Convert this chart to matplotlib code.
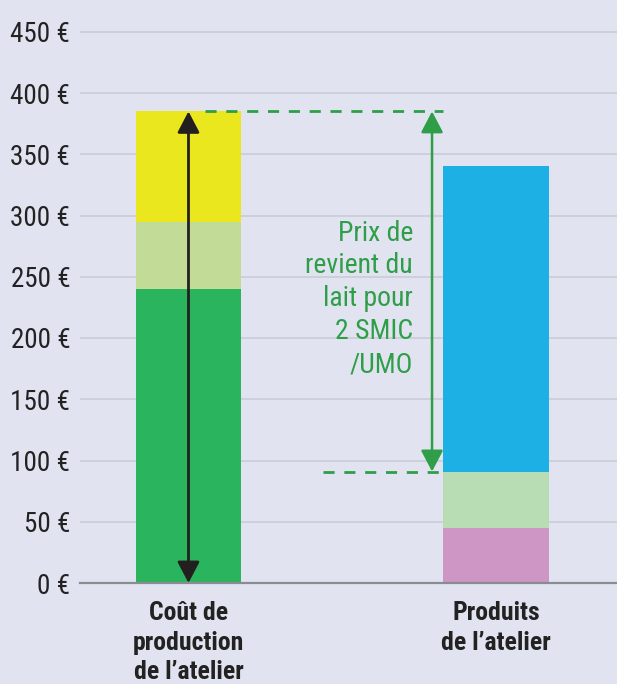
import matplotlib
matplotlib.use("Agg")
import matplotlib.pyplot as plt
from matplotlib import font_manager

# ---- data ----
categories = ["Coût de\nproduction\nde l’atelier", "Produits\nde l’atelier"]
cost_segments = [240, 55, 90]          # dark green, light green, yellow
product_segments = [45, 46, 249]       # pink, light green, blue
cost_colors = ["#2bb45e", "#c2dc98", "#ebe71f"]
product_colors = ["#cd96c5", "#b8ddb5", "#1cb0e4"]
yticks = [0, 50, 100, 150, 200, 250, 300, 350, 400, 450]
ytick_labels = [f"{v} €" for v in yticks]
cost_total = sum(cost_segments)                    # 385
prix_bottom = product_segments[0] + product_segments[1]  # 91
annotation_text = "Prix de\nrevient du\nlait pour\n2 SMIC\n/UMO"

# ---- fonts ----
names = {f.name for f in font_manager.fontManager.ttflist}
fam = "DejaVu Sans"
for cand in ["Roboto Condensed", "Liberation Sans Narrow", "Liberation Sans"]:
    if cand in names:
        fam = cand
        break
plt.rcParams["font.family"] = [fam, "DejaVu Sans"]

bg = "#e1e4f0"
green = "#2e9e48"

fig = plt.figure(figsize=(6.17, 6.84), dpi=100, facecolor=bg)
ax = fig.add_axes([80 / 617, 101 / 684, 537 / 617, 563.5 / 684], facecolor=bg)

width = 0.3415
x = [0, 1]
bottom = 0
for v, c in zip(cost_segments, cost_colors):
    ax.bar(x[0], v, bottom=bottom, width=width, color=c, zorder=2, linewidth=0)
    bottom += v
bottom = 0
for v, c in zip(product_segments, product_colors):
    ax.bar(x[1], v, bottom=bottom, width=width, color=c, zorder=2, linewidth=0)
    bottom += v

ax.set_xlim(-0.3528, 1.3935)
ax.set_ylim(0, 460)
ax.set_yticks(yticks)
ax.set_yticklabels(ytick_labels, fontsize=19.5, color="#222222")
ax.tick_params(axis="y", length=0, pad=7)
ax.set_xticks(x)
ax.set_xticklabels(categories, fontsize=18.5, fontweight="bold", color="#222222",
                   linespacing=1.3)
ax.tick_params(axis="x", length=0, pad=13)
for lab in ax.get_xticklabels():
    lab.set_verticalalignment("top")
    lab.set_horizontalalignment("center")

ax.grid(axis="y", color="#c9cbd5", linewidth=1.2, zorder=0)
for s in ["top", "right", "left"]:
    ax.spines[s].set_visible(False)
ax.spines["bottom"].set_color("#8a8c94")
ax.spines["bottom"].set_linewidth(1.6)
ax.spines["bottom"].set_zorder(3)

astyle = "<|-|>,head_length=0.65,head_width=0.34"
# black double arrow across cost bar
ax.annotate("", xy=(x[0], cost_total), xytext=(x[0], 0),
            arrowprops=dict(arrowstyle=astyle, color="#231f20", lw=2,
                            mutation_scale=20, shrinkA=0, shrinkB=0), zorder=4)

# green dashed guide lines
gx = 0.792
ax.plot([0.0537, x[1] - width / 2], [cost_total, cost_total], ls=(0, (4, 3.5)),
        color=green, lw=2, zorder=3)
ax.plot([0.4374, x[1] - width / 2], [prix_bottom, prix_bottom], ls=(0, (4, 3.5)),
        color=green, lw=2, zorder=3)
ax.annotate("", xy=(gx, cost_total), xytext=(gx, prix_bottom),
            arrowprops=dict(arrowstyle=astyle, color=green, lw=1.8,
                            mutation_scale=20, shrinkA=0, shrinkB=0), zorder=4)
ax.text(0.730, 232, annotation_text, color=green, fontsize=20, ha="right",
        va="center", linespacing=1.28, zorder=4)

fig.savefig("out.png", dpi=100, facecolor=bg)
